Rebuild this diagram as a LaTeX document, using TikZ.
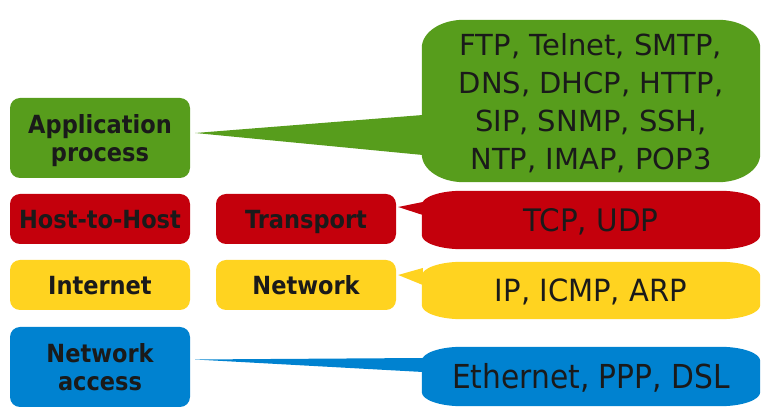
\documentclass[tikz,border=0pt]{standalone}
\usepackage{fontspec}
\setmainfont{DejaVu Sans}
\newfontfamily\layerfont[FakeStretch=0.9]{DejaVu Sans Bold}
\newfontfamily\protoA{DejaVu Sans}
\newfontfamily\protoB[FakeStretch=0.95]{DejaVu Sans}
\newfontfamily\protoC[FakeStretch=0.9]{DejaVu Sans}
\usetikzlibrary{calc}
\definecolor{cgreen}{RGB}{87,157,28}
\definecolor{cred}{RGB}{196,0,12}
\definecolor{cyellow}{RGB}{255,211,32}
\definecolor{cblue}{RGB}{0,130,208}
\definecolor{ctext}{RGB}{26,26,26}
\newcommand\bubble[4]{%
  \fill[#4] ($(#1.south west)+(0,-#3)$) -- ($(#1.north west)+(0,#3)$)
    .. controls ($(#1.north west)+(0,0.448*#3)$) and ($(#1.north west)+(0.448*#2,0)$) .. ($(#1.north west)+(#2,0)$)
    -- ($(#1.north east)+(-#2,0)$)
    .. controls ($(#1.north east)+(-0.448*#2,0)$) and ($(#1.north east)+(0,0.448*#3)$) .. ($(#1.north east)+(0,#3)$)
    -- ($(#1.south east)+(0,-#3)$)
    .. controls ($(#1.south east)+(0,-0.448*#3)$) and ($(#1.south east)+(-0.448*#2,0)$) .. ($(#1.south east)+(-#2,0)$)
    -- ($(#1.south west)+(#2,0)$)
    .. controls ($(#1.south west)+(0.448*#2,0)$) and ($(#1.south west)+(0,-0.448*#3)$) .. ($(#1.south west)+(0,-#3)$) -- cycle;}
\begin{document}
\begin{tikzpicture}[x=1pt,y=-1pt,
  layer/.style={rounded corners=10pt, minimum width=180pt, inner sep=0pt, align=center,
    text=ctext, font=\layerfont\fontsize{25}{28.2}\selectfont, text height=18.2pt, text depth=0pt},
  layertwo/.style={layer, text height=47pt},
  proto/.style={minimum width=338pt, inner sep=0pt, align=center, text=ctext, text depth=0pt}]
\useasboundingbox (0,0) rectangle (764,411);
% left column
\node[layertwo, fill=cgreen, minimum height=80pt] (app) at (100,138) {Application\\process};
\node[layer, fill=cred, minimum height=50pt] (host) at (100,219) {Host-to-Host};
\node[layer, fill=cyellow, minimum height=50pt] (inet) at (100,285) {Internet};
\node[layertwo, fill=cblue, minimum height=80pt] (nacc) at (100,367) {Network\\access};
% middle column
\node[layer, fill=cred, minimum height=50pt] (trans) at (306,219) {Transport};
\node[layer, fill=cyellow, minimum height=50pt] (netw) at (306,285) {Network};
% right column (areas of the bubbles)
\node[proto, minimum height=162pt] (ftp) at (591,101) {};
\node[proto, minimum height=58pt] (tcp) at (591,220) {};
\node[proto, minimum height=57pt] (ip) at (591,290.5) {};
\node[proto, minimum height=59pt] (eth) at (591,376.5) {};
\bubble{ftp}{42}{28}{cgreen}
\bubble{tcp}{40}{14}{cred}
\bubble{ip}{40}{14}{cyellow}
\bubble{eth}{40}{14}{cblue}
% pointers
\fill[cgreen] ($(app.east)+(5,-5)$) -- ($(ftp.west)+(1,14)$) -- ($(ftp.west)+(1,54)$) -- cycle;
\fill[cred] ($(trans.east)+(2,-12)$) -- ($(tcp.west)+(1,-18)$) -- ($(tcp.west)+(1,-5)$) -- cycle;
\fill[cyellow] ($(netw.east)+(2,-10)$) -- ($(ip.west)+(1,-22.5)$) -- ($(ip.west)+(1,-5.5)$) -- cycle;
\fill[cblue] ($(nacc.east)+(5,-7.5)$) -- ($(eth.west)+(1,-18.5)$) -- ($(eth.west)+(1,-4.5)$) -- cycle;
% texts
\node[proto, font=\protoA\fontsize{29}{37.8}\selectfont, text height=136.6pt] at (ftp) {FTP, Telnet, SMTP,\\DNS, DHCP, HTTP,\\SIP, SNMP, SSH,\\NTP, IMAP, POP3};
\node[proto, font=\protoB\fontsize{31}{37}\selectfont, text height=22.6pt] at (tcp) {TCP, UDP};
\node[proto, font=\protoB\fontsize{30.6}{37}\selectfont, text height=22.3pt] at (ip) {IP, ICMP, ARP};
\node[proto, font=\protoC\fontsize{33}{37}\selectfont, text height=24pt] at (eth) {Ethernet, PPP, DSL};
\end{tikzpicture}
\end{document}
